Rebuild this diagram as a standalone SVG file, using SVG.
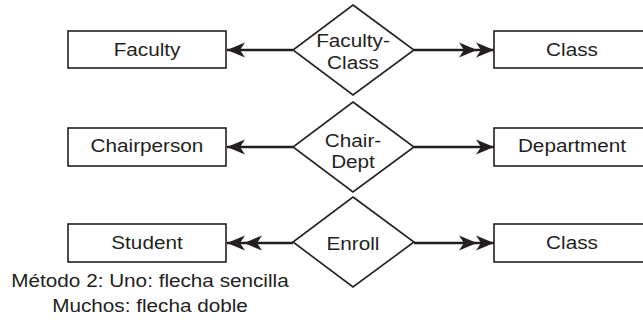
<svg xmlns="http://www.w3.org/2000/svg" width="643" height="322" viewBox="0 0 643 322">
<style>
.box{fill:#fff;stroke:#231f20;stroke-width:1.6}
.rel{fill:#fff;stroke:#231f20;stroke-width:1.6}
.t{font-family:"Liberation Sans",Arial,sans-serif;font-size:18.5px;fill:#231f20;text-anchor:middle}
.c{stroke:#231f20;stroke-width:2.6;fill:none}
</style>
<defs>
<marker id="one" markerUnits="userSpaceOnUse" viewBox="0 -8 18 16" refX="18" refY="0" markerWidth="18" markerHeight="16" orient="auto">
<path d="M18,0 L0,-7.5 L5,0 L0,7.5 Z" fill="#231f20"/>
</marker>
<marker id="many" markerUnits="userSpaceOnUse" viewBox="0 -8 35 16" refX="35" refY="0" markerWidth="35" markerHeight="16" orient="auto">
<path d="M35,0 L17,-7.5 L22,0 L17,7.5 Z M18,0 L0,-7.5 L5,0 L0,7.5 Z" fill="#231f20"/>
</marker>
</defs>
<g id="connectors">
<line class="c" x1="293" y1="50" x2="227" y2="50" marker-end="url(#one)"/>
<line class="c" x1="414" y1="50" x2="494" y2="50" marker-end="url(#many)"/>
<line class="c" x1="293" y1="147" x2="227" y2="147" marker-end="url(#one)"/>
<line class="c" x1="414" y1="147" x2="494" y2="147" marker-end="url(#one)"/>
<line class="c" x1="293" y1="243" x2="227" y2="243" marker-end="url(#many)"/>
<line class="c" x1="414" y1="243" x2="494" y2="243" marker-end="url(#many)"/>
</g>
<g id="faculty"><rect class="box" x="68" y="31" width="158" height="37"/><text class="t" transform="matrix(1.12 0 0 1 147 56)">Faculty</text></g>
<g id="faculty-class"><polygon class="rel" points="353,5 414,50 353,95 293,50"/><text class="t" transform="matrix(1.12 0 0 1 353 47)">Faculty-</text><text class="t" transform="matrix(1.12 0 0 1 353 69)">Class</text></g>
<g id="class1"><rect class="box" x="494" y="31" width="158" height="37"/><text class="t" transform="matrix(1.12 0 0 1 572 56)">Class</text></g>
<g id="chairperson"><rect class="box" x="68" y="128" width="158" height="38"/><text class="t" transform="matrix(1.12 0 0 1 147 152)">Chairperson</text></g>
<g id="chair-dept"><polygon class="rel" points="353,102 414,147 353,192 293,147"/><text class="t" transform="matrix(1.12 0 0 1 353 147)">Chair-</text><text class="t" transform="matrix(1.12 0 0 1 353 168)">Dept</text></g>
<g id="department"><rect class="box" x="494" y="128" width="158" height="38"/><text class="t" transform="matrix(1.12 0 0 1 572 152)">Department</text></g>
<g id="student"><rect class="box" x="68" y="224" width="158" height="38"/><text class="t" transform="matrix(1.12 0 0 1 147 249)">Student</text></g>
<g id="enroll"><polygon class="rel" points="353,197 414,242 353,287 293,242"/><text class="t" transform="matrix(1.12 0 0 1 353 250)">Enroll</text></g>
<g id="class2"><rect class="box" x="494" y="224" width="158" height="38"/><text class="t" transform="matrix(1.12 0 0 1 572 249)">Class</text></g>
<g id="caption"><text class="t" transform="matrix(1.12 0 0 1 150 287)">Método 2: Uno: flecha sencilla</text><text class="t" transform="matrix(1.12 0 0 1 150 312)">Muchos: flecha doble</text></g>
</svg>
